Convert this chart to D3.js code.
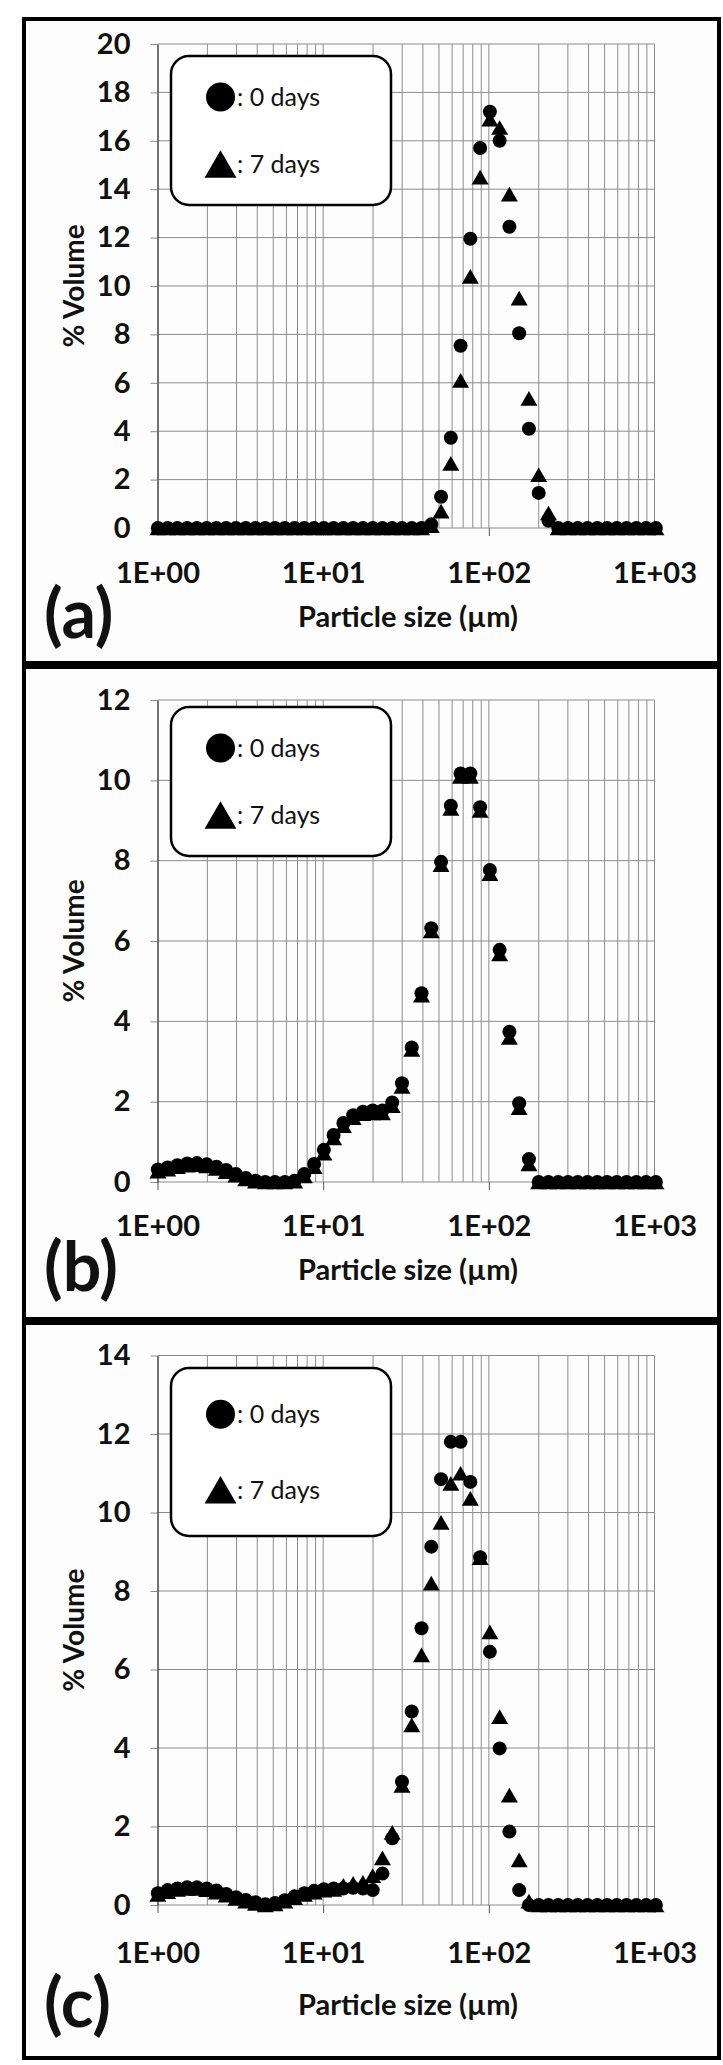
<!DOCTYPE html>
<html>
<head>
<meta charset="utf-8">
<script src="https://cdnjs.cloudflare.com/ajax/libs/d3/7.8.5/d3.min.js"></script>
<style>
  body { margin: 0; background: #fff; }
  svg { display: block; font-family: Lato, "Open Sans", sans-serif; }
</style>
</head>
<body>
<script>
// particle size channels (um)
const sizes = [1.005, 1.151, 1.318, 1.510, 1.729, 1.981, 2.269, 2.599, 2.976, 3.409,
  3.905, 4.472, 5.122, 5.867, 6.720, 7.697, 8.816, 10.097, 11.565, 13.246,
  15.172, 17.377, 19.904, 22.797, 26.111, 29.907, 34.255, 39.234, 44.938, 51.471,
  58.953, 67.523, 77.339, 88.583, 101.46, 116.21, 133.10, 152.45, 174.62, 200.00,
  229.07, 262.37, 300.51, 344.21, 394.24, 451.55, 517.20, 592.39, 678.50, 777.14,
  890.11, 1019.5]

const xTickValues = [1, 10, 100, 1000]
const xTickLabels = ["1E+00", "1E+01", "1E+02", "1E+03"]
const seriesNames = [": 0 days", ": 7 days"]
const panelTags = ["(a)", "(b)", "(c)"]
const yMaxes = [20, 12, 14]
const xTitle = "Particle size (\u00b5m)"
const yTitle = "% Volume"

// % volume, 0 days / 7 days
const volA0 = [0, 0, 0, 0, 0, 0, 0, 0, 0, 0, 0, 0, 0, 0, 0, 0, 0, 0, 0, 0,
  0, 0, 0, 0, 0, 0, 0, 0, 0.15, 1.29, 3.73, 7.53, 11.95, 15.7, 17.2, 16.0, 12.45, 8.05, 4.1, 1.45,
  0.3, 0, 0, 0, 0, 0, 0, 0, 0, 0, 0, 0]
const volA7 = [0, 0, 0, 0, 0, 0, 0, 0, 0, 0, 0, 0, 0, 0, 0, 0, 0, 0, 0, 0,
  0, 0, 0, 0, 0, 0, 0, 0, 0.1, 0.7, 2.67, 6.1, 10.4, 14.5, 16.9, 16.55, 13.8, 9.5, 5.36, 2.2,
  0.62, 0, 0, 0, 0, 0, 0, 0, 0, 0, 0, 0]
const volB0 = [0.31, 0.36, 0.42, 0.46, 0.47, 0.44, 0.38, 0.30, 0.20, 0.10, 0.03, 0, 0, 0, 0.03, 0.20, 0.45, 0.80, 1.17, 1.47,
  1.66, 1.75, 1.78, 1.78, 1.98, 2.46, 3.35, 4.70, 6.32, 7.97, 9.37, 10.17, 10.17, 9.33, 7.77, 5.78, 3.74, 1.96, 0.57, 0,
  0, 0, 0, 0, 0, 0, 0, 0, 0, 0, 0, 0]
const volB7 = [0.27, 0.32, 0.38, 0.42, 0.43, 0.40, 0.34, 0.26, 0.17, 0.08, 0.02, 0, 0, 0, 0.02, 0.15, 0.38, 0.72, 1.10, 1.40,
  1.60, 1.70, 1.72, 1.72, 1.90, 2.38, 3.30, 4.65, 6.25, 7.90, 9.30, 10.10, 10.10, 9.25, 7.68, 5.68, 3.60, 1.85, 0.45, 0,
  0, 0, 0, 0, 0, 0, 0, 0, 0, 0, 0, 0]
const volC0 = [0.30, 0.38, 0.42, 0.45, 0.45, 0.42, 0.37, 0.28, 0.20, 0.13, 0.07, 0.02, 0.05, 0.12, 0.22, 0.30, 0.36, 0.40, 0.42, 0.42,
  0.44, 0.42, 0.38, 0.80, 1.70, 3.14, 4.93, 7.05, 9.13, 10.85, 11.80, 11.80, 10.78, 8.86, 6.45, 3.99, 1.87, 0.38, 0, 0,
  0, 0, 0, 0, 0, 0, 0, 0, 0, 0, 0, 0]
const volC7 = [0.27, 0.34, 0.40, 0.42, 0.42, 0.39, 0.33, 0.25, 0.17, 0.10, 0.04, 0, 0.03, 0.10, 0.19, 0.27, 0.33, 0.38, 0.40, 0.50,
  0.55, 0.58, 0.75, 1.20, 1.85, 3.05, 4.59, 6.37, 8.20, 9.75, 10.74, 11.00, 10.36, 8.85, 6.96, 4.80, 2.80, 1.15, 0.10, 0,
  0, 0, 0, 0, 0, 0, 0, 0, 0, 0, 0, 0]

const panelData = [[volA0, volA7], [volB0, volB7], [volC0, volC7]]

// page layout (pixels)
let width = 723
let height = 2065
let xLeft = 157.5, xRight = 654.5
let layout = [
  {box: [19, 663], plot: [44, 528], legend: [56, 205], xLabelY: 573, titleY: 617, tagY: 614},
  {box: [667, 1319], plot: [700, 1182], legend: [707, 856], xLabelY: 1226, titleY: 1270, tagY: 1267},
  {box: [1323, 2058], plot: [1355.5, 1905], legend: [1368, 1536], xLabelY: 1953, titleY: 2005, tagY: 2003}
]

let gridColor = "#8c8c8c"
let tickFont = 29
let circleSize = Math.PI * 7 * 7
let triSize = 125
let triShift = size => Math.sqrt(size / (3 * Math.sqrt(3))) / 2

const svg = d3.select("body").append("svg")
  .attr("width", width)
  .attr("height", height)
  .attr("viewBox", [0, 0, width, height])

let x = d3.scaleLog([1, 1000], [xLeft, xRight])

// minor + major vertical grid values
let xGrid = []
for (let p = 1; p <= 100; p *= 10) {
  for (let m = 1; m <= 9; m++) xGrid.push(m * p)
}
xGrid.push(1000)
xGrid = xGrid.filter(v => v > 1)

function drawPanel(i) {
  const L = layout[i]
  const [top, bottom] = L.plot
  const y = d3.scaleLinear([0, yMaxes[i]], [bottom, top])
  const yTicks = d3.range(0, yMaxes[i] + 1, 2)
  const g = svg.append("g")

  // panel frame
  g.append("rect")
    .attr("x", 24)
    .attr("y", L.box[0])
    .attr("width", 695)
    .attr("height", L.box[1] - L.box[0])
    .attr("fill", "#fdfdfd")
    .attr("stroke", "black")
    .attr("stroke-width", 4)

  // grid
  g.append("g")
    .selectAll("line")
    .data(xGrid)
    .join("line")
    .attr("x1", d => x(d)).attr("x2", d => x(d))
    .attr("y1", top).attr("y2", bottom)
    .attr("stroke", gridColor)
    .attr("stroke-width", 1)

  g.append("g")
    .selectAll("line")
    .data(yTicks)
    .join("line")
    .attr("x1", xLeft).attr("x2", xRight)
    .attr("y1", d => y(d)).attr("y2", d => y(d))
    .attr("stroke", gridColor)
    .attr("stroke-width", 1)

  // axes
  g.append("g")
    .attr("transform", `translate(${xLeft},0)`)
    .call(d3.axisLeft(y).tickValues(yTicks).tickSize(7).tickSizeOuter(0).tickPadding(20))
    .call(a => a.attr("font-size", null).attr("font-family", null))
    .call(a => a.select(".domain").attr("stroke", "#444").attr("stroke-width", 1.5))
    .call(a => a.selectAll(".tick line").attr("stroke", gridColor))
    .call(a => a.selectAll(".tick text")
      .attr("font-size", tickFont).attr("font-weight", "bold").attr("fill", "#111"))

  g.append("g")
    .attr("transform", `translate(0,${bottom})`)
    .call(d3.axisBottom(x).tickValues(xTickValues).tickFormat((d, k) => xTickLabels[k]).tickSize(8).tickSizeOuter(0))
    .call(a => a.attr("font-size", null).attr("font-family", null))
    .call(a => a.select(".domain").remove())
    .call(a => a.selectAll(".tick line").attr("stroke", "#555"))
    .call(a => a.selectAll(".tick text")
      .attr("y", L.xLabelY - bottom).attr("dy", "0.35em")
      .attr("font-size", tickFont).attr("font-weight", "bold").attr("fill", "#111"))

  // markers
  const [v0, v7] = panelData[i]
  g.append("g")
    .selectAll("path")
    .data(v7)
    .join("path")
    .attr("d", d3.symbol(d3.symbolTriangle, triSize))
    .attr("transform", (d, k) => `translate(${x(sizes[k])},${y(d) + triShift(triSize)})`)
    .attr("fill", "black")

  g.append("g")
    .selectAll("path")
    .data(v0)
    .join("path")
    .attr("d", d3.symbol(d3.symbolCircle, circleSize))
    .attr("transform", (d, k) => `translate(${x(sizes[k])},${y(d)})`)
    .attr("fill", "black")

  // legend
  const [lt, lb] = L.legend
  const lh = lb - lt
  const lc = (lt + lb) / 2
  g.append("rect")
    .attr("x", 171).attr("y", lt)
    .attr("width", 220).attr("height", lh)
    .attr("rx", 18)
    .attr("fill", "white")
    .attr("stroke", "black")
    .attr("stroke-width", 2.5)

  const legendRows = [
    {type: d3.symbolCircle, size: Math.PI * 14.5 * 14.5, cy: lc - lh * 0.225, shift: 0},
    {type: d3.symbolTriangle, size: 440, cy: lc + lh * 0.225, shift: triShift(440)}
  ]
  legendRows.forEach((r, k) => {
    g.append("path")
      .attr("d", d3.symbol(r.type, r.size))
      .attr("transform", `translate(220.5,${r.cy + r.shift})`)
      .attr("fill", "black")
    g.append("text")
      .attr("x", 237)
      .attr("y", r.cy)
      .attr("dy", "0.35em")
      .attr("font-size", 25)
      .attr("fill", "#111")
      .text(seriesNames[k])
  })

  // titles
  g.append("text")
    .attr("x", (xLeft + xRight) / 2 + 2)
    .attr("y", L.titleY)
    .attr("dy", "0.35em")
    .attr("text-anchor", "middle")
    .attr("font-size", 29)
    .attr("font-weight", "bold")
    .attr("fill", "#111")
    .text(xTitle)

  g.append("text")
    .attr("transform", `translate(74,${(top + bottom) / 2}) rotate(-90)`)
    .attr("dy", "0.35em")
    .attr("text-anchor", "middle")
    .attr("font-size", 28)
    .attr("font-weight", "bold")
    .attr("fill", "#111")
    .text(yTitle)

  g.append("text")
    .attr("x", 44)
    .attr("y", L.tagY)
    .attr("dy", "0.35em")
    .attr("font-size", 68)
    .attr("font-weight", "bold")
    .attr("fill", "#111")
    .text(panelTags[i])
}

panelTags.forEach((t, i) => drawPanel(i))
</script>
</body>
</html>
